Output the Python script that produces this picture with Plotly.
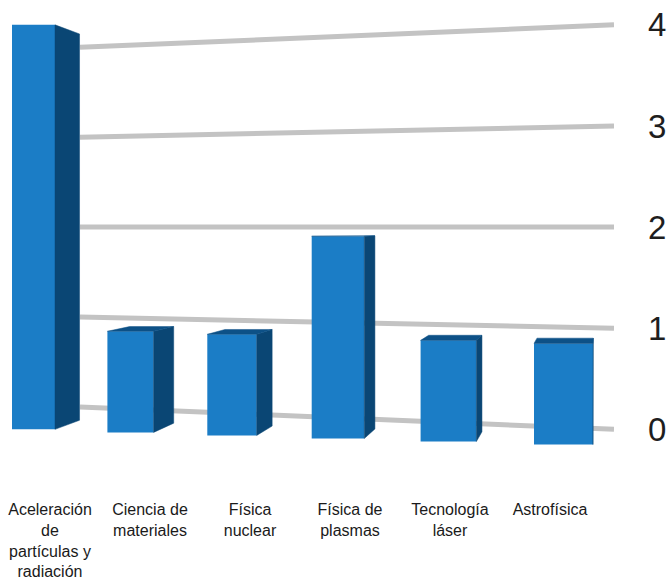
import plotly.graph_objects as go

# ---- data ----
categories = [
    "Aceleración<br>de<br>partículas y<br>radiación",
    "Ciencia de<br>materiales",
    "Física<br>nuclear",
    "Física de<br>plasmas",
    "Tecnología<br>láser",
    "Astrofísica",
]
values = [4, 1, 1, 2, 1, 1]
y_ticks = [0, 1, 2, 3, 4]

# ---- style ----
FRONT = "#1b7dc6"
SIDE = "#0a4674"
TOP = "#0d5187"
GRID = "#c3c3c3"

# simple perspective parameters (style only)
EYE_Y = 2.0       # horizon height in value units
VANISH_X = 5.5    # vanishing point in category units
DEPTH = 0.955     # back face shrink toward the vanishing point
GRID_LEFT_SCALE = 0.889
GRID_X0, GRID_X1 = 0.3, 5.64


def back(px, py):
    return VANISH_X + DEPTH * (px - VANISH_X), EYE_Y + DEPTH * (py - EYE_Y)


idx = list(range(len(values)))
front_w = [0.43 + 0.032 * i for i in idx]
front_c = [i - 0.165 - 0.0525 * i + 0.0225 * i * i for i in idx]
offsets = [c - i - w / 2 for c, i, w in zip(front_c, idx, front_w)]
bases = [-0.03 * i for i in idx]

fig = go.Figure()

# front faces
fig.add_trace(go.Bar(
    x=idx, y=values, base=bases, width=front_w, offset=offsets,
    marker=dict(color=FRONT, line=dict(width=0)),
    hoverinfo="skip", showlegend=False,
))

# side and top faces
for i, v in enumerate(values):
    L = front_c[i] - front_w[i] / 2
    R = front_c[i] + front_w[i] / 2
    b0 = bases[i]
    t0 = b0 + v
    bx1, by1 = back(R, t0)
    bx0, by0 = back(R, b0)
    fig.add_trace(go.Scatter(
        x=[R, R, bx1, bx0, R], y=[b0, t0, by1, by0, b0],
        mode="lines", fill="toself", fillcolor=SIDE,
        line=dict(width=0.5, color=SIDE), hoverinfo="skip", showlegend=False,
    ))
    if t0 < EYE_Y:
        lx, ly = back(L, t0)
        fig.add_trace(go.Scatter(
            x=[L, R, bx1, lx, L], y=[t0, t0, by1, ly, t0],
            mode="lines", fill="toself", fillcolor=TOP,
            line=dict(width=0.5, color=TOP), hoverinfo="skip", showlegend=False,
        ))

# slanted grid lines (behind bars)
shapes = []
for v in y_ticks:
    shapes.append(dict(
        type="line", xref="x", yref="y", layer="below",
        x0=GRID_X0, y0=EYE_Y + GRID_LEFT_SCALE * (v - EYE_Y),
        x1=GRID_X1, y1=v,
        line=dict(color=GRID, width=5),
    ))

fig.update_layout(
    width=669, height=580,
    margin=dict(l=0, r=55, t=0, b=88),
    paper_bgcolor="white", plot_bgcolor="white",
    shapes=shapes,
    xaxis=dict(
        range=[-0.5, 5.64], tickmode="array", tickvals=idx, ticktext=categories,
        showgrid=False, zeroline=False, showline=False, ticks="",
        ticklabelstandoff=9,
        tickfont=dict(family="Liberation Sans, Arial, sans-serif",
                      size=16, color="#1a1a1a"),
        tickangle=0,
    ),
    yaxis=dict(
        range=[(432 - 492) / 101.75, 432 / 101.75], side="right",
        tickmode="array", tickvals=y_ticks, ticktext=[str(t) for t in y_ticks],
        showgrid=False, zeroline=False, showline=False, ticks="",
        ticklabelstandoff=33,
        tickfont=dict(family="Liberation Sans, Arial, sans-serif", size=33, color="#1e1e1e"),
    ),
)

fig.write_html("out.html")
